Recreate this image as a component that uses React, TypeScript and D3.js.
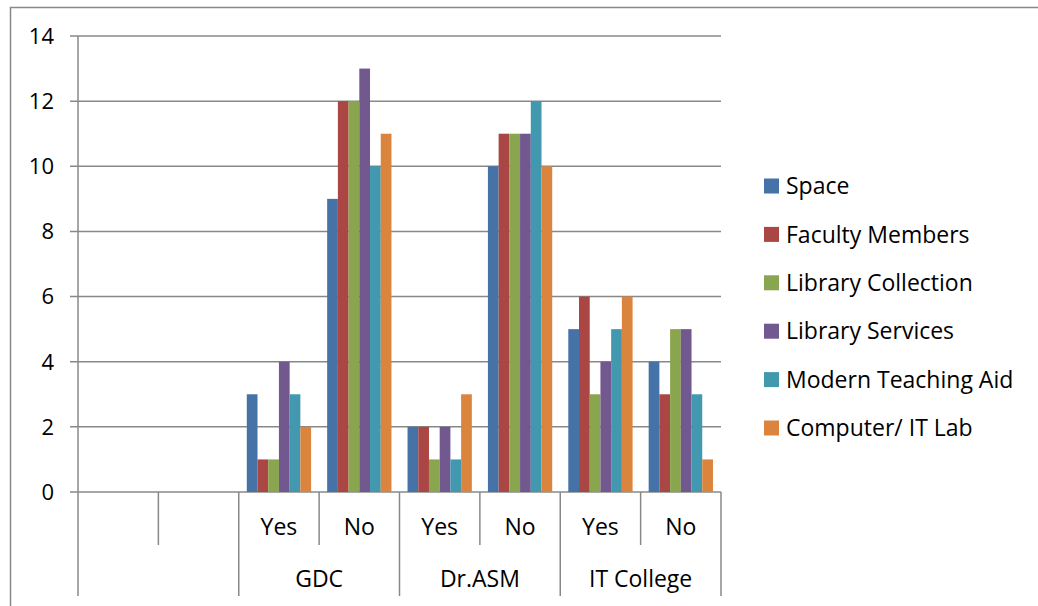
import { useEffect, useRef } from "react"
import * as d3 from "d3"

// x slots: two blank slots, then Yes/No under each college
const subLabels = ["", "", "Yes", "No", "Yes", "No", "Yes", "No"]
const groupNames = ["", "GDC", "Dr.ASM", "IT College"]
const groupSpans = [[0, 2], [2, 4], [4, 6], [6, 8]]

const seriesNames = [
  "Space",
  "Faculty Members",
  "Library Collection",
  "Library Services",
  "Modern Teaching Aid",
  "Computer/ IT Lab"
]
const colors = ["#4572A7", "#AA4643", "#89A54E", "#71588F", "#4198AF", "#DB843D"]

// values per slot (blank slots have none)
const space = [null, null, 3, 9, 2, 10, 5, 4]
const faculty = [null, null, 1, 12, 2, 11, 6, 3]
const libCollection = [null, null, 1, 12, 1, 11, 3, 5]
const libServices = [null, null, 4, 13, 2, 11, 4, 5]
const teachingAid = [null, null, 3, 10, 1, 12, 5, 3]
const computerLab = [null, null, 2, 11, 3, 10, 6, 1]

const yTicks = [0, 2, 4, 6, 8, 10, 12, 14]

export default function App() {
  const ref = useRef<SVGSVGElement | null>(null)

  useEffect(() => {
    document.body.style.margin = "0"
    const svg = d3.select(ref.current)
    svg.selectAll("*").remove()

    const font = "'Open Sans', sans-serif"
    const grid = "#888888"
    const allSeries = [space, faculty, libCollection, libServices, teachingAid, computerLab]

    const left = 78, right = 721, top = 36, bottom = 492

    // outer frame
    svg.append("path")
      .attr("d", "M10.5,606 L10.5,7.5 L1038,7.5")
      .attr("fill", "none")
      .attr("stroke", "#888888")
      .attr("stroke-width", 1.5)

    const slots = d3.range(subLabels.length)
    const x = d3.scaleBand<number>().domain(slots).range([left, right]).padding(0)
    const inner = d3.scaleBand<number>()
      .domain(d3.range(seriesNames.length))
      .range([0, x.bandwidth()])
      .paddingInner(0)
      .paddingOuter(0.75)

    const y = d3.scaleLinear().domain([0, 14]).range([bottom, top])

    // gridlines and tick marks
    svg.append("g").selectAll("line")
      .data(yTicks)
      .enter()
      .append("line")
      .attr("x1", left - 8)
      .attr("x2", right)
      .attr("y1", d => y(d))
      .attr("y2", d => y(d))
      .attr("stroke", grid)
      .attr("stroke-width", 1.5)

    svg.append("g").selectAll("text")
      .data(yTicks)
      .enter()
      .append("text")
      .attr("x", 54)
      .attr("y", d => y(d))
      .attr("dy", "0.36em")
      .attr("text-anchor", "end")
      .attr("font-family", font)
      .attr("font-size", 22)
      .attr("fill", "#000")
      .text(d => d)

    // y axis line
    svg.append("line")
      .attr("x1", left).attr("x2", left)
      .attr("y1", top).attr("y2", bottom)
      .attr("stroke", grid).attr("stroke-width", 1.5)

    // bars
    allSeries.forEach((vals, si) => {
      svg.append("g").selectAll("rect")
        .data(vals.map((v, i) => ({ v, i })).filter(d => d.v != null))
        .enter()
        .append("rect")
        .attr("x", d => x(d.i)! + inner(si)!)
        .attr("y", d => y(d.v as number))
        .attr("width", inner.bandwidth())
        .attr("height", d => bottom - y(d.v as number))
        .attr("fill", colors[si])
    })

    // category separators
    const edges = d3.range(subLabels.length + 1)
    const edgeX = (i: number) => (i === subLabels.length ? right : x(i)!)
    const groupEdges = new Set(groupSpans.flat())
    svg.append("g").selectAll("line")
      .data(edges)
      .enter()
      .append("line")
      .attr("x1", d => edgeX(d))
      .attr("x2", d => edgeX(d))
      .attr("y1", bottom)
      .attr("y2", d => (groupEdges.has(d) ? 596 : 545))
      .attr("stroke", grid)
      .attr("stroke-width", 1.5)

    svg.append("g").selectAll("text")
      .data(slots)
      .enter()
      .append("text")
      .attr("x", d => x(d)! + x.bandwidth() / 2)
      .attr("y", 527)
      .attr("dy", "0.36em")
      .attr("text-anchor", "middle")
      .attr("font-family", font)
      .attr("font-size", 23)
      .attr("fill", "#000")
      .text(d => subLabels[d])

    svg.append("g").selectAll("text")
      .data(groupSpans)
      .enter()
      .append("text")
      .attr("x", d => (edgeX(d[0]) + edgeX(d[1])) / 2)
      .attr("y", 579)
      .attr("dy", "0.36em")
      .attr("text-anchor", "middle")
      .attr("font-family", font)
      .attr("font-size", 23)
      .attr("fill", "#000")
      .text((_, i) => groupNames[i])

    // legend
    const ly = d3.scalePoint<number>()
      .domain(d3.range(seriesNames.length))
      .range([186, 428])
    const legend = svg.append("g").selectAll("g")
      .data(seriesNames)
      .enter()
      .append("g")
      .attr("transform", (_, i) => `translate(764,${ly(i)})`)
    legend.append("rect")
      .attr("x", 0).attr("y", -7.5)
      .attr("width", 15).attr("height", 15)
      .attr("fill", (_, i) => colors[i])
    legend.append("text")
      .attr("x", 22)
      .attr("dy", "0.36em")
      .attr("font-family", font)
      .attr("font-size", 23)
      .attr("fill", "#000")
      .text(d => d)
  }, [])

  return <svg ref={ref} width={1038} height={606} style={{ display: "block" }} />
}
